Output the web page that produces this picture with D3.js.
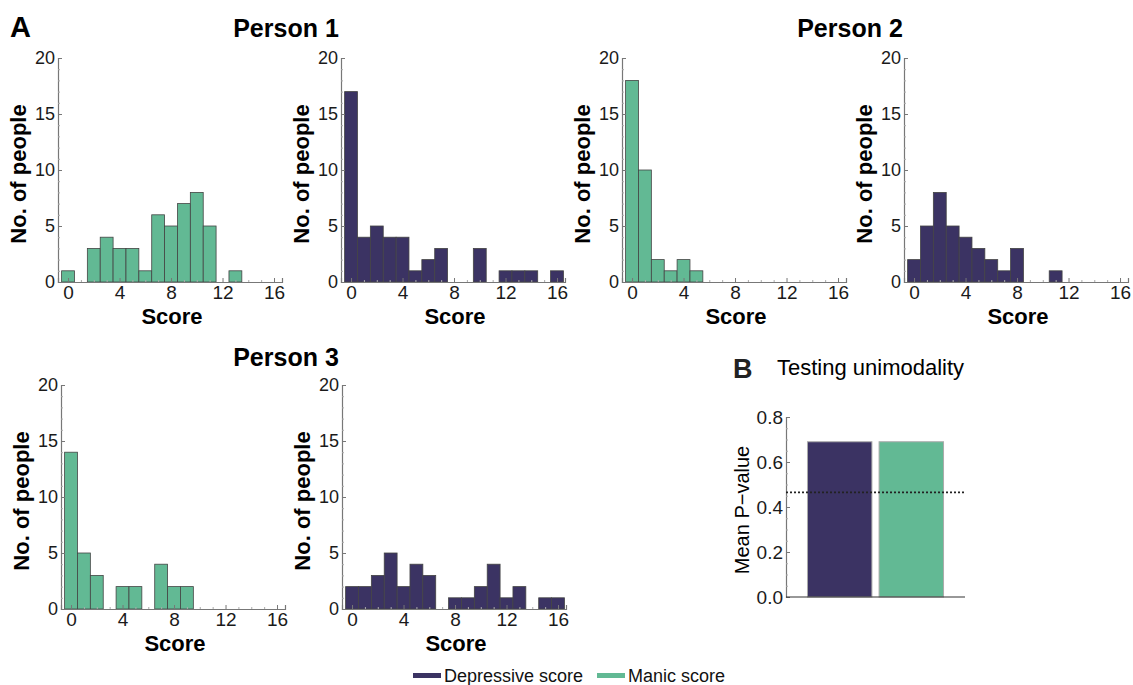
<!DOCTYPE html>
<html>
<head>
<meta charset="utf-8">
<script src="https://cdn.jsdelivr.net/npm/d3@7"></script>
<style>
  html, body { margin: 0; padding: 0; background: #fff; }
  svg { display: block; font-family: "Liberation Sans", Arial, sans-serif; }
</style>
</head>
<body>
<svg id="chart" width="1133" height="685"></svg>
<script>
// ---------- DATA ----------
const scoreBins = d3.range(0, 17);            // score values 0..16
const xTicks = [0, 4, 8, 12, 16];
const yTicks = [0, 5, 10, 15, 20];

const person1Manic      = [1, 0, 3, 4, 3, 3, 1, 6, 5, 7, 8, 5, 0, 1, 0, 0, 0];
const person1Depressive = [17, 4, 5, 4, 4, 1, 2, 3, 0, 0, 3, 0, 1, 1, 1, 0, 1];
const person2Manic      = [18, 10, 2, 1, 2, 1, 0, 0, 0, 0, 0, 0, 0, 0, 0, 0, 0];
const person2Depressive = [2, 5, 8, 5, 4, 3, 2, 1, 3, 0, 0, 1, 0, 0, 0, 0, 0];
const person3Manic      = [14, 5, 3, 0, 2, 2, 0, 4, 2, 2, 0, 0, 0, 0, 0, 0, 0];
const person3Depressive = [2, 2, 3, 5, 2, 4, 3, 0, 1, 1, 2, 4, 1, 2, 0, 1, 1];

const personTitles = ["Person 1", "Person 2", "Person 3"];

const seriesNames = ["Depressive score", "Manic score"];
const meanPValues = [0.69, 0.69];
const pThreshold = 0.465;
const bTicks = [0.0, 0.2, 0.4, 0.6, 0.8];

// ---------- STYLE ----------
const colDep = "#3b3363";
const colMan = "#62b994";
const axisCol = "#777";
const textCol = "#1a1a1a";
const yTickFont = 18;
const xTickFont = 19;

const svg = d3.select("#chart");

const panels = [
  { values: person1Manic,      color: colMan, left: 58,  top: 58 },
  { values: person1Depressive, color: colDep, left: 341, top: 58 },
  { values: person2Manic,      color: colMan, left: 622, top: 58 },
  { values: person2Depressive, color: colDep, left: 904, top: 58 },
  { values: person3Manic,      color: colMan, left: 61,  top: 385 },
  { values: person3Depressive, color: colDep, left: 342, top: 385 }
];
const PW = 224, PH = 224;

panels.forEach(p => {
  const g = svg.append("g").attr("transform", `translate(${p.left},${p.top})`);
  const x = d3.scaleLinear().domain([-0.78, 16.62]).range([0, PW]);
  const y = d3.scaleLinear().domain([0, 20]).range([PH, 0]);

  g.selectAll("rect.bar")
    .data(scoreBins.map((s, i) => ({ s, v: p.values[i] })).filter(d => d.v > 0))
    .join("rect")
    .attr("class", "bar")
    .attr("x", d => x(d.s - 0.5))
    .attr("width", d => x(d.s + 0.5) - x(d.s - 0.5))
    .attr("y", d => y(d.v))
    .attr("height", d => y(0) - y(d.v))
    .attr("fill", p.color)
    .attr("stroke", "#444")
    .attr("stroke-width", 0.8);

  // y axis
  const yAxis = d3.axisLeft(y).tickValues(yTicks).tickSize(-4).tickPadding(6).tickFormat(d3.format("d"));
  const ya = g.append("g").call(yAxis);
  ya.select(".domain").attr("stroke", axisCol).attr("stroke-width", 1.2);
  ya.selectAll(".tick line").attr("stroke", axisCol);
  ya.selectAll(".tick text").attr("font-size", yTickFont).attr("fill", textCol)
    .attr("font-family", "Liberation Sans, Arial, sans-serif").attr("dx", 3);
  const yMinor = d3.axisLeft(y).tickValues(d3.range(0, 21).filter(v => v % 5)).tickSize(-2).tickFormat("");
  const ym = g.append("g").call(yMinor);
  ym.select(".domain").remove();
  ym.selectAll(".tick line").attr("stroke", "#aaa");

  // x axis
  const xAxis = d3.axisBottom(x).tickValues(xTicks).tickSize(-4).tickPadding(4);
  const xa = g.append("g").attr("transform", `translate(0,${PH})`).call(xAxis);
  xa.select(".domain").attr("stroke", axisCol).attr("stroke-width", 1.2);
  xa.selectAll(".tick line").attr("stroke", axisCol);
  xa.selectAll(".tick text").attr("font-size", xTickFont).attr("fill", textCol)
    .attr("font-family", "Liberation Sans, Arial, sans-serif").attr("dy", "0.68em");
  const xMinor = d3.axisBottom(x).tickValues(scoreBins.filter(v => v % 4)).tickSize(-2).tickFormat("");
  const xm = g.append("g").attr("transform", `translate(0,${PH})`).call(xMinor);
  xm.select(".domain").remove();
  xm.selectAll(".tick line").attr("stroke", "#aaa");

  g.append("text")
    .attr("x", PW / 2 + 2).attr("y", PH + 42)
    .attr("text-anchor", "middle")
    .attr("font-size", 22).attr("font-weight", "bold").attr("fill", "#000")
    .text("Score");
  g.append("text")
    .attr("transform", `translate(-32,${PH / 2 + 4}) rotate(-90)`)
    .attr("text-anchor", "middle")
    .attr("font-size", 22).attr("font-weight", "bold").attr("fill", "#000")
    .text("No. of people");
});

const titlePos = [[286, 37], [850, 37], [286, 366]];
personTitles.forEach((t, i) => {
  svg.append("text")
    .attr("x", titlePos[i][0]).attr("y", titlePos[i][1])
    .attr("text-anchor", "middle")
    .attr("font-size", 25).attr("font-weight", "bold").attr("fill", "#000")
    .text(t);
});

svg.append("text").attr("x", 10).attr("y", 37)
  .attr("font-size", 29).attr("font-weight", "bold").attr("fill", "#000").text("A");
svg.append("text").attr("x", 733).attr("y", 378)
  .attr("font-size", 27).attr("font-weight", "bold").attr("fill", "#222").text("B");
svg.append("text").attr("x", 777).attr("y", 375)
  .attr("font-size", 22).attr("fill", "#000").text("Testing unimodality");

// ---------- PANEL B ----------
{
  const left = 786, top = 417, W = 179, H = 180;
  const g = svg.append("g").attr("transform", `translate(${left},${top})`);
  const x = d3.scaleBand().domain(seriesNames).range([0, W]).paddingInner(0.1).paddingOuter(0.3);
  const y = d3.scaleLinear().domain([0, 0.8]).range([H, 0]);
  const colors = [colDep, colMan];

  g.selectAll("rect.bbar")
    .data(seriesNames.map((s, i) => ({ s, v: meanPValues[i], c: colors[i] })))
    .join("rect")
    .attr("class", "bbar")
    .attr("x", d => x(d.s))
    .attr("width", x.bandwidth())
    .attr("y", d => y(d.v))
    .attr("height", d => y(0) - y(d.v))
    .attr("fill", d => d.c)
    .attr("stroke", "#aaa")
    .attr("stroke-width", 1);

  const yAxis = d3.axisLeft(y).tickValues(bTicks).tickSize(-4).tickPadding(6).tickFormat(d3.format(".1f"));
  const ya = g.append("g").call(yAxis);
  ya.select(".domain").attr("stroke", axisCol).attr("stroke-width", 1.2);
  ya.selectAll(".tick line").attr("stroke", axisCol);
  ya.selectAll(".tick text").attr("font-size", 19).attr("fill", textCol)
    .attr("font-family", "Liberation Sans, Arial, sans-serif").attr("dx", 3);
  const yMinor = d3.axisLeft(y).tickValues(d3.range(1, 16).map(k => k * 0.05).filter((v, i) => (i + 1) % 4)).tickSize(-2).tickFormat("");
  const ym = g.append("g").call(yMinor);
  ym.select(".domain").remove();
  ym.selectAll(".tick line").attr("stroke", "#aaa");

  g.append("line").attr("x1", 0).attr("x2", W).attr("y1", H).attr("y2", H)
    .attr("stroke", "#333").attr("stroke-width", 1.2);

  g.append("line").attr("x1", 0).attr("x2", W)
    .attr("y1", y(pThreshold)).attr("y2", y(pThreshold))
    .attr("stroke", "#222").attr("stroke-width", 1.6).attr("stroke-dasharray", "2,2");

  g.append("text")
    .attr("transform", `translate(-37,${H / 2 + 3}) rotate(-90)`)
    .attr("text-anchor", "middle")
    .attr("font-size", 20).attr("fill", "#000")
    .text("Mean P\u2212value");
}

// ---------- LEGEND ----------
{
  const items = [
    { name: seriesNames[0], color: colDep, x: 413 },
    { name: seriesNames[1], color: colMan, x: 597 }
  ];
  const lg = svg.append("g");
  items.forEach(it => {
    lg.append("rect").attr("x", it.x).attr("y", 673).attr("width", 28).attr("height", 5)
      .attr("fill", it.color);
    lg.append("text").attr("x", it.x + 31).attr("y", 682)
      .attr("font-size", 18).attr("fill", "#111").text(it.name);
  });
}
</script>
</body>
</html>
